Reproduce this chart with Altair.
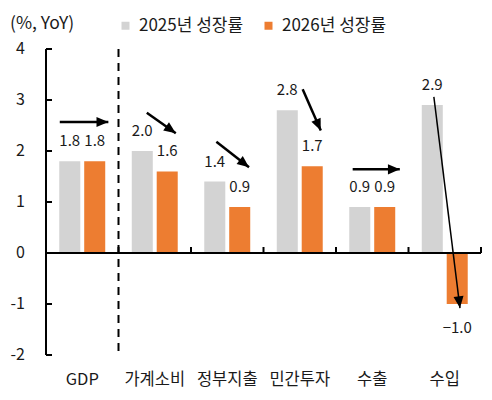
import math

import altair as alt
import pandas as pd

FONT = "Noto Sans CJK KR"
INK = "#1a1a1a"

# categories and growth rates (%, YoY)
categories = ["GDP", "가계소비", "정부지출", "민간투자", "수출", "수입"]
series_names = ["2025년 성장률", "2026년 성장률"]
growth_2025 = [1.8, 2.0, 1.4, 2.8, 0.9, 2.9]
growth_2026 = [1.8, 1.6, 0.9, 1.7, 0.9, -1.0]
series_colors = ["#d3d3d3", "#ed7d31"]

y_ticks = [-2, -1, 0, 1, 2, 3, 4]
unit_label = "(%, YoY)"

# annotation arrows, in category units (x) and % (y)
arrow_x0 = [0.19, 1.39, 2.35, 3.54, 4.23, 5.35]
arrow_y0 = [2.57, 2.75, 2.18, 3.21, 1.64, 3.06]
arrow_x1 = [0.86, 1.79, 2.80, 3.79, 4.88, 5.71]
arrow_y1 = [2.57, 2.35, 1.68, 2.40, 1.64, -1.08]

W, H = 435, 306
n_cat = len(categories)
px_x = W / n_cat
px_y = H / (y_ticks[-1] - y_ticks[0])

rows = []
for i, c in enumerate(categories):
    rows.append({"cat": c, "idx": i, "series": series_names[0], "s": 0, "value": growth_2025[i]})
    rows.append({"cat": c, "idx": i, "series": series_names[1], "s": 1, "value": growth_2026[i]})
bars_df = pd.DataFrame(rows)
cats_df = pd.DataFrame({"cat": categories, "idx": range(n_cat)})
ticks_df = pd.DataFrame({"t": y_ticks})

arrows = pd.DataFrame({
    "cat": categories, "x0": arrow_x0, "y0": arrow_y0, "x1": arrow_x1, "y1": arrow_y1,
})
arrows["angle"] = [
    math.degrees(math.atan2((b - a) * px_x, (d - c) * px_y)) % 360
    for a, b, c, d in zip(arrows.x0, arrows.x1, arrows.y0, arrows.y1)
]

xscale = alt.Scale(domain=[0, n_cat], nice=False, zero=False)
yscale = alt.Scale(domain=[y_ticks[0], y_ticks[-1]], nice=False, zero=False)

base = alt.Chart(bars_df).transform_calculate(
    xl="datum.idx + 0.5 + (datum.s == 0 ? -0.172 : 0.172) - 0.145",
    xr="datum.idx + 0.5 + (datum.s == 0 ? -0.172 : 0.172) + 0.145",
    xc="datum.idx + 0.5 + (datum.s == 0 ? -0.172 : 0.172)",
)

bars = base.mark_bar().encode(
    x=alt.X("xl:Q", scale=xscale, axis=None),
    x2="xr:Q",
    y=alt.Y("value:Q", scale=yscale, axis=None),
    y2=alt.datum(0),
    color=alt.Color("series:N", scale=alt.Scale(domain=series_names, range=series_colors),
                    legend=alt.Legend(orient="none", direction="horizontal", title=None,
                                      legendX=71, legendY=-32, symbolType="square",
                                      symbolSize=64, symbolStrokeWidth=0, labelFontSize=17,
                                      labelOffset=5, columnPadding=16, padding=0,
                                      labelColor=INK, labelFont=FONT)),
)

pos_labels = base.transform_filter("datum.value >= 0").mark_text(
    fontSize=15, dy=-20, baseline="middle", color=INK, font=FONT
).encode(
    x=alt.X("xc:Q", axis=None), y=alt.Y("value:Q", axis=None),
    text=alt.Text("value:Q", format=".1f"),
)
neg_labels = base.transform_filter("datum.value < 0").mark_text(
    fontSize=15, dy=24, baseline="middle", color=INK, font=FONT
).encode(
    x=alt.X("xc:Q", axis=None), y=alt.Y("value:Q", axis=None),
    text=alt.Text("value:Q", format=".1f"),
)

# category labels under the plot
cat_labels = alt.Chart(cats_df).transform_calculate(
    xm="datum.idx + 0.5"
).mark_text(fontSize=16.5, baseline="middle", color=INK, font=FONT).encode(
    x=alt.X("xm:Q", axis=None), y=alt.value(H + 25), text="cat:N",
)

# y axis: line, inward ticks, labels
y_domain = alt.Chart(pd.DataFrame({"a": [0], "top": [y_ticks[-1]], "bot": [y_ticks[0]]})).mark_rule(
    color="black", strokeWidth=2
).encode(
    x=alt.X("a:Q", axis=None), y=alt.Y("top:Q", axis=None), y2="bot:Q",
)

y_tick_marks = alt.Chart(ticks_df).transform_calculate(
    lo="0", hi=str(6 / px_x)
).mark_rule(color="black", strokeWidth=2).encode(
    x=alt.X("lo:Q", axis=None), x2="hi:Q", y=alt.Y("t:Q", axis=None),
)

y_labels = alt.Chart(ticks_df).transform_calculate(
    lab="toString(datum.t)"
).mark_text(
    align="right", baseline="middle", fontSize=16, color=INK, font=FONT
).encode(
    x=alt.value(-21), y=alt.Y("t:Q", axis=None), text="lab:N",
)

zero_line = alt.Chart(pd.DataFrame({"a": [0], "b": [n_cat], "v": [0]})).mark_rule(
    color="black", strokeWidth=2
).encode(
    x=alt.X("a:Q", axis=None), x2="b:Q", y=alt.Y("v:Q", axis=None),
)

bound_ticks = alt.Chart(pd.DataFrame({"b": list(range(1, n_cat + 1))})).transform_calculate(
    lo="0", hi=str(6 / px_y)
).mark_rule(color="black", strokeWidth=2).encode(
    x=alt.X("b:Q", axis=None), y=alt.Y("lo:Q", axis=None), y2="hi:Q",
)

separator = alt.Chart(pd.DataFrame({"b": [1], "top": [y_ticks[-1]], "bot": [y_ticks[0]]})).mark_rule(
    color="black", strokeWidth=2, strokeDash=[8, 6]
).encode(
    x=alt.X("b:Q", axis=None), y=alt.Y("top:Q", axis=None), y2="bot:Q",
)

arrow_lines = alt.Chart(arrows).mark_rule(color="black").encode(
    x=alt.X("x0:Q", axis=None), x2="x1:Q",
    y=alt.Y("y0:Q", axis=None), y2="y1:Q",
    strokeWidth=alt.condition("datum.cat == '수입'", alt.value(1.5), alt.value(2.5)),
)

arrow_heads = alt.Chart(arrows).mark_point(
    shape="M0,0 L-0.85,2 L0.85,2 Z", filled=True, color="black", opacity=1, size=140
).encode(
    x=alt.X("x1:Q", axis=None), y=alt.Y("y1:Q", axis=None),
    angle=alt.Angle("angle:Q", scale=None),
)

unit_text = alt.Chart(pd.DataFrame({"t": [unit_label]})).mark_text(
    align="left", baseline="middle", fontSize=17.5, color=INK, font=FONT
).encode(
    x=alt.value(-36), y=alt.value(-25), text="t:N",
)

chart = alt.layer(
    bars, zero_line, bound_ticks, y_domain, y_tick_marks, y_labels, separator,
    pos_labels, neg_labels, cat_labels, arrow_lines, arrow_heads, unit_text,
).properties(
    width=W, height=H,
    autosize=alt.AutoSizeParams(type="none"),
    padding={"left": 38, "top": 41, "right": 3, "bottom": 37},
).configure_view(stroke=None)

chart.save("out.html", embed_options={"renderer": "svg", "actions": False})
